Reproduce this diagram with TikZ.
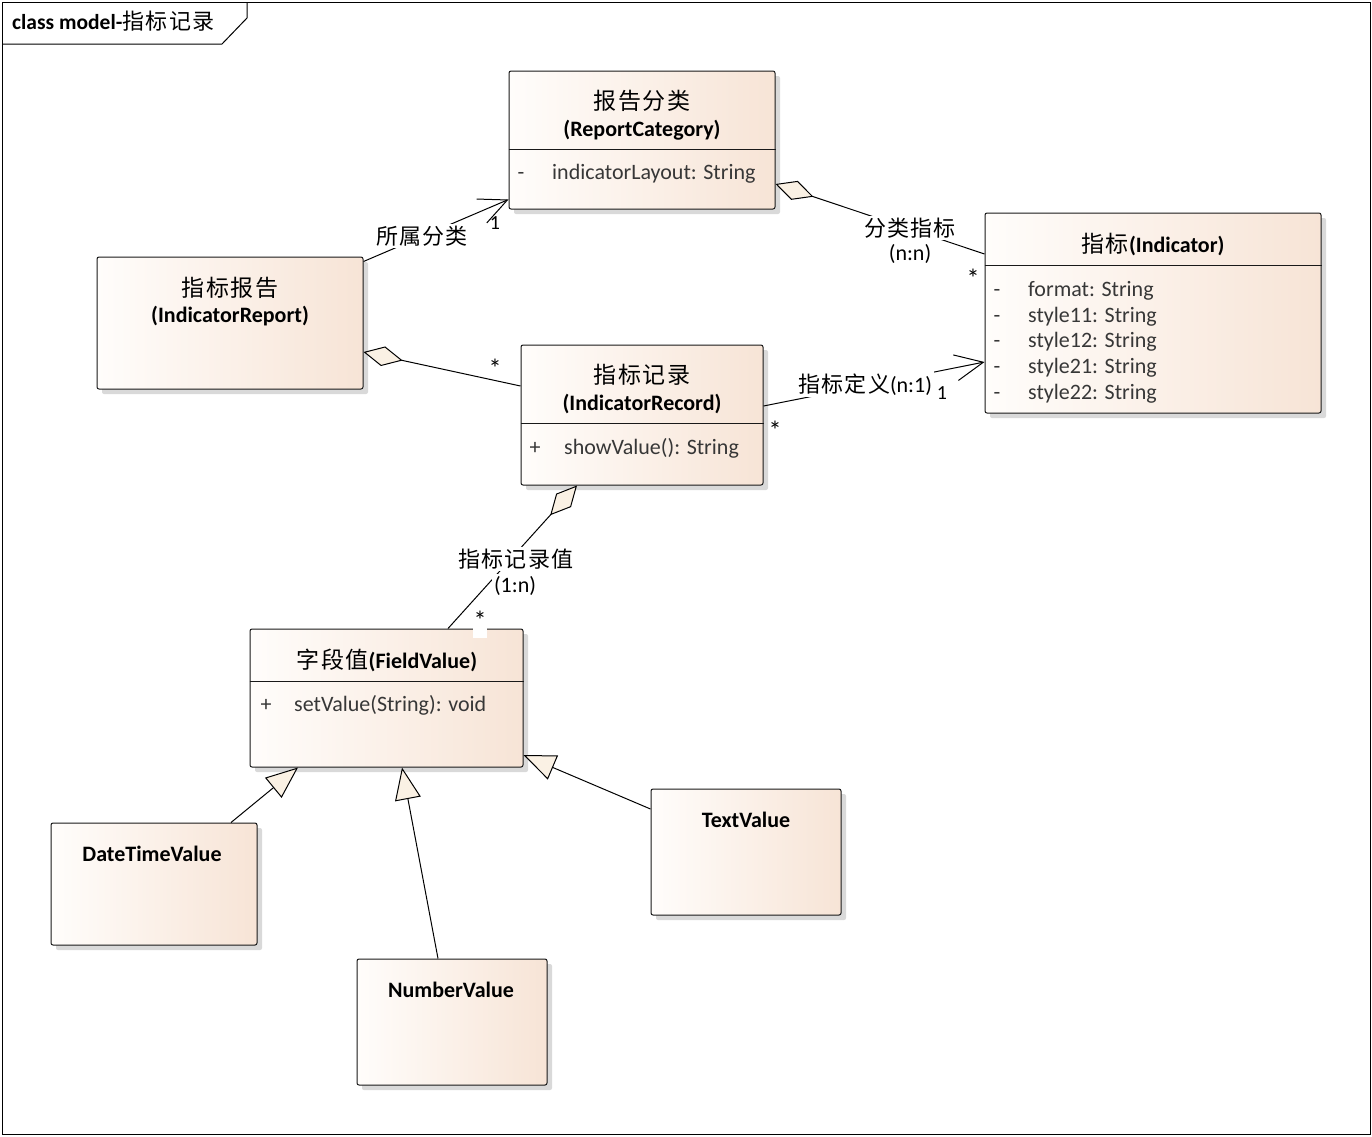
\documentclass[tikz,border=0pt]{standalone}
\usepackage{fontspec}
\setmainfont{Carlito}
\newfontfamily\cjk[LetterSpace=6]{Noto Sans CJK SC}
\usetikzlibrary{arrows.meta,shadows}
\definecolor{boxleft}{RGB}{255,253,251}
\definecolor{boxright}{RGB}{247,228,214}
\definecolor{tipfill}{RGB}{250,241,228}
\definecolor{membergray}{RGB}{55,55,55}
\tikzset{
  classbox/.style={draw=black!90, line width=1pt, rounded corners=2pt,
    left color=boxleft, right color=boxright, inner sep=0pt,
    drop shadow={shadow xshift=5pt, shadow yshift=-5pt, fill=black!15, opacity=1}},
  divider/.style={draw=black!90, line width=1pt},
  classname/.style={font=\bfseries\fontsize{22}{26}\selectfont, anchor=base, inner sep=0pt},
  cjkname/.style={font=\cjk\fontsize{23}{26}\selectfont, anchor=base, inner sep=0pt},
  member/.style={font=\fontsize{22}{26}\selectfont, text=membergray, anchor=base west, inner sep=0pt},
  visib/.style={font=\fontsize{22}{26}\selectfont, text=membergray, anchor=base, inner sep=0pt},
  linklabel/.style={font=\fontsize{22}{26}\selectfont, fill=white, anchor=base, inner sep=2pt},
  mult/.style={font=\fontsize{26}{28}\selectfont, inner sep=1pt},
  link/.style={draw=black, line width=1pt},
  aggr/.style={link, {Diamond[fill=tipfill, length=40pt, width=20pt]}-},
  assoc/.style={link, -{Straight Barb[length=28pt, width=26pt]}},
  inherit/.style={link, -{Triangle[fill=tipfill, length=32pt, width=26pt]}},
  framename/.style={font=\bfseries\fontsize{21.5}{24}\selectfont, anchor=base west, inner sep=0pt}
}
\begin{document}
\begin{tikzpicture}[x=1pt, y=-1pt]
    % Frame
        \fill[white] (0,0) rectangle (1372,1136);
        \useasboundingbox (0,0) rectangle (1372,1136);
        \draw[line width=1pt] (2,2) rectangle (1370,1134);
        \draw[line width=1pt] (2,44) -- (222,44) -- (247,18) -- (247,2);
        \node[framename] (frametitle) at (12,29) {class model-{\cjk\mdseries\fontsize{22}{24}\selectfont 指标记录}};
    % Classes
        \node[classbox, minimum width=266pt, minimum height=138pt] (rc) at (642,140) {};
        \node[classbox, minimum width=266pt, minimum height=132pt] (ir) at (230,323) {};
        \node[classbox, minimum width=242pt, minimum height=140pt] (irec) at (642,415) {};
        \node[classbox, minimum width=336pt, minimum height=200pt] (ind) at (1153,313) {};
        \node[classbox, minimum width=273pt, minimum height=138pt] (fv) at (386.5,698) {};
        \node[classbox, minimum width=206pt, minimum height=122pt] (dt) at (154,884) {};
        \node[classbox, minimum width=190pt, minimum height=126pt] (nv) at (452,1022) {};
        \node[classbox, minimum width=190pt, minimum height=126pt] (tv) at (746,852) {};
    % Compartments
        \draw[divider] ([shift={(0,79)}]rc.north west) -- ([shift={(0,79)}]rc.north east);
        \draw[divider] ([shift={(0,79)}]irec.north west) -- ([shift={(0,79)}]irec.north east);
        \draw[divider] ([shift={(0,53)}]ind.north west) -- ([shift={(0,53)}]ind.north east);
        \draw[divider] ([shift={(0,53)}]fv.north west) -- ([shift={(0,53)}]fv.north east);
    % Class names
        \node[cjkname] (rcname) at (642,109) {报告分类};
        \node[classname] (rcid) at (642,136) {(ReportCategory)};
        \node[cjkname] (irname) at (230,296) {指标报告};
        \node[classname] (irid) at (230,322) {(IndicatorReport)};
        \node[cjkname] (irecname) at (642,383) {指标记录};
        \node[classname] (irecid) at (642,410) {(IndicatorRecord)};
        \node[classname] (indname) at (1153,252) {{\cjk\mdseries\fontsize{23}{26}\selectfont 指标}(Indicator)};
        \node[classname] (fvname) at (387,668) {{\cjk\mdseries\fontsize{23}{26}\selectfont 字段值}(FieldValue)};
        \node[classname] (dtname) at (152,861) {DateTimeValue};
        \node[classname] (nvname) at (451,997) {NumberValue};
        \node[classname] (tvname) at (746,827) {TextValue};
    % Members
        \node[visib] (rcvis) at (521,179) {-};
        \node[member] (rclayout) at (552,179) {indicatorLayout: String};
        \node[visib] (irecvis) at (535,454) {+};
        \node[member] (irecshow) at (564,454) {showValue(): String};
        \node[visib] (fvvis) at (266,711) {+};
        \node[member] (fvset) at (294,711) {setValue(String): void};
        \foreach \y/\attr [count=\i] in {296/format, 322/style11, 347/style12, 373/style21, 399/style22} {
            \node[visib] (indvis\i) at (997,\y) {-};
            \node[member] (indattr\i) at (1028,\y) {\attr: String};
        }
    % Connectors
        \draw[assoc] ([shift={(0,5)}]ir.north east) -- ([shift={(0,-10)}]rc.south west);
        \draw[aggr] ([shift={(0,44)}]rc.east) -- ([shift={(0,-59)}]ind.west);
        \draw[aggr] ([shift={(0,29)}]ir.east) -- ([shift={(0,-29)}]irec.west);
        \draw[assoc] ([shift={(0,-9)}]irec.east) -- ([shift={(0,49)}]ind.west);
        \draw[aggr] ([shift={(-65,0)}]irec.south) -- ([shift={(61.5,0)}]fv.north);
        \draw[inherit] ([shift={(77,0)}]dt.north) -- ([shift={(-88.5,0)}]fv.south);
        \draw[inherit] ([shift={(-14,0)}]nv.north) -- ([shift={(15.5,0)}]fv.south);
        \draw[inherit] ([shift={(0,-43)}]tv.west) -- ([shift={(0,57)}]fv.east);
    % Connector labels
        \node[linklabel, font=\cjk\fontsize{22}{24}\selectfont] (catof) at (422,244) {所属分类};
        \node[mult, font=\fontsize{20}{24}\selectfont] (catofone) at (495,223) {1};
        \node[mult] (recmany) at (495,368) {*};
        \node[linklabel, font=\cjk\fontsize{22}{24}\selectfont] (catind) at (910,236) {分类指标};
        \node[linklabel] (catindratio) at (910,260) {(n:n)};
        \node[mult] (catindmany) at (973,278) {*};
        \node[linklabel] (inddef) at (865,392) {{\cjk\fontsize{22}{24}\selectfont 指标定义}(n:1)};
        \node[mult, font=\fontsize{20}{24}\selectfont] (inddefone) at (942,393) {1};
        \node[mult] (inddefmany) at (775,430) {*};
        \node[linklabel, font=\cjk\fontsize{22}{24}\selectfont] (recval) at (516,567) {指标记录值};
        \node[linklabel] (recvalratio) at (515,592) {(1:n)};
        \node[mult, fill=white, text depth=8pt] (recvalmany) at (480,624) {*};
\end{tikzpicture}
\end{document}
